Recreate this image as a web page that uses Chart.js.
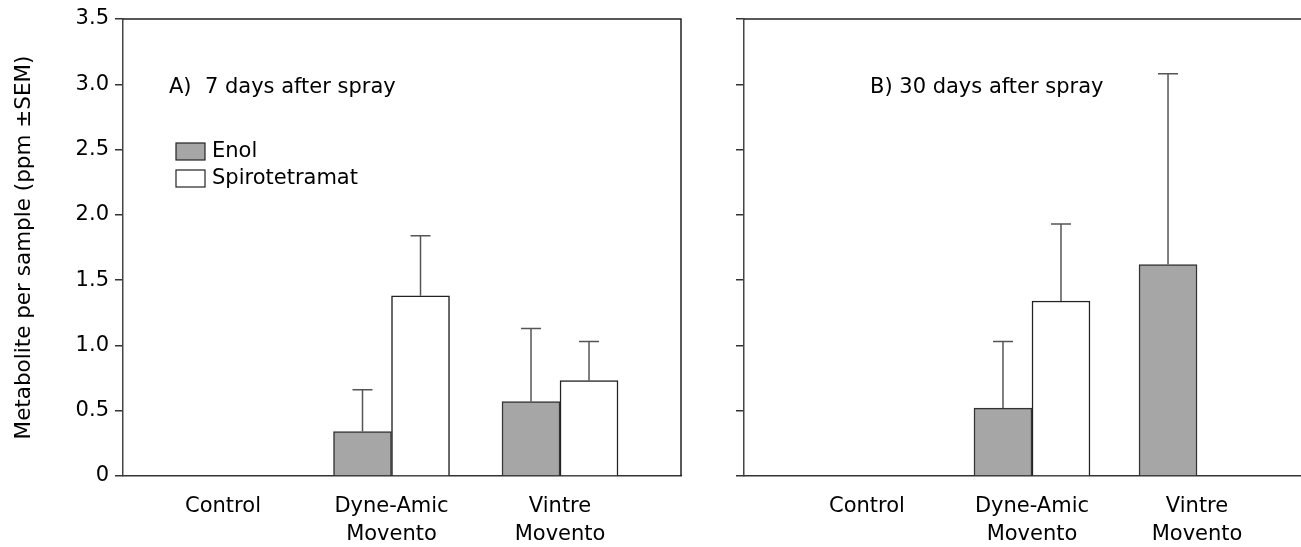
<!DOCTYPE html>
<html lang="en">
<head>
<meta charset="UTF-8">
<title>Metabolite per sample</title>
<script src="https://cdn.jsdelivr.net/npm/chart.js"></script>
<style>
  body { margin: 0; background: #fff; }
  .panel { position: absolute; top: 0; }
</style>
</head>
<body>
<div class="panel" style="left:0"><canvas id="chartA" width="690" height="547"></canvas></div>
<div class="panel" style="left:690px"><canvas id="chartB" width="611" height="547"></canvas></div>
<script>
// categories and series
const categories = ['Control', ['Dyne-Amic', 'Movento'], ['Vintre', 'Movento']];
const seriesNames = ['Enol', 'Spirotetramat'];

// A) 7 days after spray
const enolA = [null, 0.34, 0.57];
const enolSemA = [null, 0.32, 0.56];
const spiroA = [null, 1.38, 0.73];
const spiroSemA = [null, 0.46, 0.30];

// B) 30 days after spray
const enolB = [null, 0.52, 1.62];
const enolSemB = [null, 0.51, 1.46];
const spiroB = [null, 1.34, null];
const spiroSemB = [null, 0.59, null];

const yMax = 3.5;
const yStep = 0.5;

Chart.defaults.font.family = '"DejaVu Sans", sans-serif';
Chart.defaults.font.size = 21;
Chart.defaults.color = '#000';

const FONT = '21px "DejaVu Sans", sans-serif';
const enolColor = '#a6a6a6';

// error bars, frame, panel text and legend
const panelPlugin = {
    id: 'panel',
    afterDatasetsDraw(chart, args, opts) {
        const ctx = chart.ctx;
        const a = chart.chartArea;
        const y = chart.scales.y;
        ctx.save();

        ctx.strokeStyle = '#555';
        ctx.lineWidth = 1.5;
        chart.data.datasets.forEach((ds, i) => {
            const meta = chart.getDatasetMeta(i);
            meta.data.forEach((bar, j) => {
                const v = ds.data[j].y;
                const e = ds.sem[j];
                if (v == null || e == null) return;
                const top = y.getPixelForValue(v + e);
                ctx.beginPath();
                ctx.moveTo(bar.x, bar.y);
                ctx.lineTo(bar.x, top);
                ctx.moveTo(bar.x - 10, top);
                ctx.lineTo(bar.x + 10, top);
                ctx.stroke();
            });
        });

        ctx.strokeStyle = '#222';
        ctx.beginPath();
        ctx.moveTo(a.left, a.top);
        ctx.lineTo(a.right, a.top);
        if (opts.rightEdge) ctx.lineTo(a.right, a.bottom);
        ctx.stroke();

        ctx.fillStyle = '#000';
        ctx.font = FONT;
        ctx.textBaseline = 'middle';
        ctx.fillText(opts.title, a.left + opts.titleX, a.top + 69);

        if (opts.legend) {
            chart.data.datasets.forEach((ds, i) => {
                const sy = a.top + 124 + i * 27;
                ctx.fillStyle = ds.backgroundColor;
                ctx.fillRect(a.left + 53, sy, 29, 17);
                ctx.strokeStyle = '#222';
                ctx.lineWidth = 1.2;
                ctx.strokeRect(a.left + 53, sy, 29, 17);
                ctx.fillStyle = '#000';
                ctx.fillText(ds.label, a.left + 89, sy + 9);
            });
        }
        ctx.restore();
    }
};

function makeChart(id, enol, enolSem, spiro, spiroSem, cfg) {
    return new Chart(document.getElementById(id), {
        type: 'bar',
        data: {
            datasets: [{
                label: seriesNames[0],
                data: enol.map((v, i) => ({ x: i, y: v })),
                sem: enolSem,
                backgroundColor: enolColor,
                borderColor: '#333',
                borderWidth: 1.5,
                barThickness: 58
            }, {
                label: seriesNames[1],
                data: spiro.map((v, i) => ({ x: i, y: v })),
                sem: spiroSem,
                backgroundColor: '#ffffff',
                borderColor: '#222',
                borderWidth: 1.5,
                barThickness: 58
            }]
        },
        options: {
            responsive: false,
            animation: false,
            layout: { padding: { top: 19, right: cfg.padRight, left: 0, bottom: 0 } },
            plugins: {
                legend: { display: false },
                tooltip: { enabled: false },
                panel: { title: cfg.title, titleX: cfg.titleX, legend: cfg.legend, rightEdge: cfg.rightEdge }
            },
            scales: {
                x: {
                    type: 'linear',
                    offset: false,
                    min: cfg.xMin,
                    max: cfg.xMax,
                    grid: { display: false, drawTicks: false, offset: false },
                    border: { color: '#333', width: 1.5 },
                    afterBuildTicks: s => { s.ticks = categories.map((c, i) => ({ value: i })); },
                    afterFit: s => { s.height = 71; },
                    ticks: {
                        autoSkip: false,
                        maxRotation: 0,
                        padding: 16,
                        font: { size: 21, lineHeight: 1.35 },
                        callback: v => categories[v]
                    }
                },
                y: {
                    min: 0,
                    max: yMax,
                    grid: { drawOnChartArea: false, tickLength: 8, tickColor: '#333', lineWidth: 1.5 },
                    border: { color: '#444', width: 1.5 },
                    afterFit: s => { s.width = cfg.yWidth; },
                    ticks: {
                        display: cfg.yLabels,
                        stepSize: yStep,
                        padding: 6,
                        callback: v => v === 0 ? '0' : v.toFixed(1)
                    },
                    title: {
                        display: cfg.yLabels,
                        text: 'Metabolite per sample (ppm \u00b1SEM)',
                        font: { size: 21.5 },
                        padding: { top: 12, bottom: 0 }
                    }
                }
            }
        },
        plugins: [panelPlugin]
    });
}

makeChart('chartA', enolA, enolSemA, spiroA, spiroSemA, {
    title: 'A)  7 days after spray', titleX: 46, legend: true, rightEdge: true,
    padRight: 9, yWidth: 123, yLabels: true, xMin: -0.5935, xMax: 2.718
});

makeChart('chartB', enolB, enolSemB, spiroB, spiroSemB, {
    title: 'B) 30 days after spray', titleX: 126, legend: false, rightEdge: false,
    padRight: 0, yWidth: 54, yLabels: false, xMin: -0.745, xMax: 2.63
});
</script>
</body>
</html>
